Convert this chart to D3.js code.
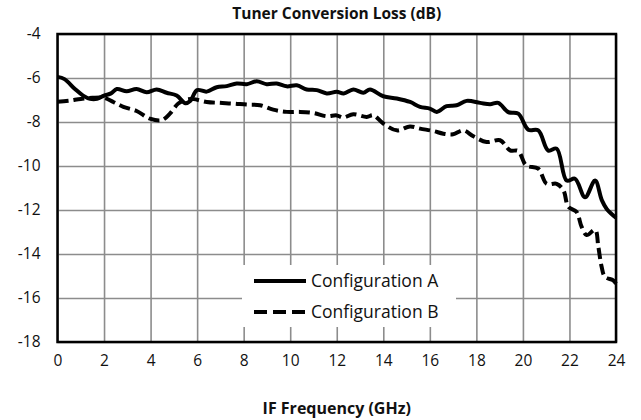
<!DOCTYPE html>
<html>
<head>
<meta charset="utf-8">
<script src="https://cdn.jsdelivr.net/npm/d3@7"></script>
<style>
  body { margin: 0; background: #fff; }
  text { font-family: "Open Sans", Lato, sans-serif; fill: #111; }
</style>
</head>
<body>
<script>
// data
var freqA = [0, 0.3, 0.75, 1.1, 1.4, 1.7, 2.0, 2.3, 2.55, 2.97, 3.4, 3.83, 4.26, 4.69, 5.12, 5.5, 5.7, 6.0,
  6.41, 6.84, 7.27, 7.7, 8.13, 8.56, 8.99, 9.42, 9.85, 10.28, 10.71, 11.14, 11.57, 12.0, 12.3, 12.71,
  13.14, 13.43, 14.0, 14.58, 15.15, 15.58, 16.0, 16.3, 16.72, 17.15, 17.58, 18.16, 18.59, 18.94, 19.37,
  19.8, 20.23, 20.66, 21.09, 21.45, 21.88, 22.24, 22.67, 23.1, 23.39, 23.6, 24];
var lossA = [-5.95, -6.05, -6.5, -6.8, -6.95, -6.95, -6.8, -6.7, -6.5, -6.6, -6.5, -6.65, -6.52, -6.67, -6.8, -7.15, -7.05, -6.55,
  -6.62, -6.42, -6.37, -6.25, -6.28, -6.15, -6.28, -6.25, -6.38, -6.33, -6.52, -6.55, -6.7, -6.63, -6.7, -6.52,
  -6.67, -6.52, -6.83, -6.93, -7.09, -7.31, -7.39, -7.54, -7.28, -7.24, -7.04, -7.13, -7.19, -7.13, -7.55,
  -7.62, -8.35, -8.38, -9.3, -9.21, -10.66, -10.58, -11.42, -10.66, -11.55, -11.95, -12.35];

var freqB = [0, 0.5, 1.0, 1.5, 2.0, 2.4, 2.83, 3.4, 3.97, 4.48, 4.83, 5.19, 5.55, 5.84, 6.41, 6.98, 7.55, 8.13,
  8.7, 9.27, 9.85, 10.42, 11.0, 11.57, 12.0, 12.28, 12.71, 13.29, 13.57, 14.0, 14.58, 15.15, 15.58, 16.15,
  16.58, 17.0, 17.44, 17.87, 18.44, 19.02, 19.45, 19.8, 20.14, 20.66, 21.02, 21.45, 21.74, 21.95, 22.3,
  22.52, 22.74, 23.1, 23.24, 23.38, 23.52, 23.88, 24];
var lossB = [-7.08, -7.03, -6.95, -6.9, -6.9, -7.09, -7.31, -7.5, -7.85, -7.92, -7.62, -7.16, -6.98, -6.96, -7.09, -7.13, -7.16, -7.21,
  -7.24, -7.44, -7.54, -7.54, -7.59, -7.74, -7.7, -7.8, -7.65, -7.77, -7.69, -8.07, -8.38, -8.2, -8.3, -8.41,
  -8.53, -8.56, -8.38, -8.65, -8.91, -8.83, -9.29, -9.32, -9.97, -10.12, -10.81, -10.81, -11.1, -11.85, -12.08,
  -12.76, -13.14, -12.9, -13.66, -14.57, -15.03, -15.2, -15.35];

var xTicks = [0, 2, 4, 6, 8, 10, 12, 14, 16, 18, 20, 22, 24];
var yTicks = [-4, -6, -8, -10, -12, -14, -16, -18];
var seriesNames = ["Configuration A", "Configuration B"];

var W = 641, H = 420;
var margin = {left: 57.5, top: 34, right: 25, bottom: 78};
var w = W - margin.left - margin.right,
    h = H - margin.top - margin.bottom;

var svg = d3.select('body').append('svg')
  .attr('width', W)
  .attr('height', H);

var g = svg.append('g')
  .attr('transform', 'translate(' + margin.left + ',' + margin.top + ')');

var x = d3.scaleLinear().domain([0, 24]).range([0, w]);
var y = d3.scaleLinear().domain([-18, -4]).range([h, 0]);

// grid
g.append('g')
  .attr('class', 'grid')
  .attr('transform', 'translate(0,' + h + ')')
  .call(d3.axisBottom(x).tickValues(xTicks).tickSize(-h).tickFormat(''));
g.append('g')
  .attr('class', 'grid')
  .call(d3.axisLeft(y).tickValues(yTicks).tickSize(-w).tickFormat(''));
g.selectAll('.grid .domain').remove();
g.selectAll('.grid line').attr('stroke', '#8c8c8c').attr('stroke-width', 1.6);

// tick labels (plain hyphen for minus, like the original)
var fmt = function(d) { return String(d); };
var xa = g.append('g')
  .attr('transform', 'translate(0,' + h + ')')
  .call(d3.axisBottom(x).tickValues(xTicks).tickSize(0).tickPadding(13).tickFormat(fmt));
var ya = g.append('g')
  .call(d3.axisLeft(y).tickValues(yTicks).tickSize(0).tickPadding(17).tickFormat(fmt));
xa.select('.domain').remove();
ya.select('.domain').remove();
svg.selectAll('.tick text')
  .attr('font-family', '"Open Sans", Lato, sans-serif')
  .attr('font-size', 15.5)
  .attr('fill', '#111');

// legend background
var leg = g.append('g');
leg.append('rect')
  .attr('x', 242 - margin.left).attr('y', 265 - margin.top)
  .attr('width', 214).attr('height', 62)
  .attr('fill', '#fff');

// lines
var line = d3.line()
  .x(function(d) { return x(d[0]); })
  .y(function(d) { return y(d[1]); })
  .curve(d3.curveCatmullRom.alpha(0.5));

var dataA = freqA.map(function(f, i) { return [f, lossA[i]]; });
var dataB = freqB.map(function(f, i) { return [f, lossB[i]]; });

g.append('path')
  .datum(dataB)
  .attr('d', line)
  .attr('fill', 'none')
  .attr('stroke', '#000')
  .attr('stroke-width', 4)
  .attr('stroke-dasharray', '11,5');

g.append('path')
  .datum(dataA)
  .attr('d', line)
  .attr('fill', 'none')
  .attr('stroke', '#000')
  .attr('stroke-width', 4)
  .attr('stroke-linejoin', 'round');

// plot border
g.append('rect')
  .attr('width', w).attr('height', h)
  .attr('fill', 'none')
  .attr('stroke', '#000')
  .attr('stroke-width', 2.5);

// legend items
seriesNames.forEach(function(name, i) {
  var ly = 281 - margin.top + i * 31;
  leg.append('line')
    .attr('x1', 254 - margin.left).attr('x2', 306 - margin.left)
    .attr('y1', ly).attr('y2', ly)
    .attr('stroke', '#000')
    .attr('stroke-width', 4)
    .attr('stroke-dasharray', i == 1 ? '13,6' : null);
  leg.append('text')
    .attr('x', 311 - margin.left).attr('y', ly + 6)
    .attr('font-size', 17.5)
    .text(name);
});

// titles
svg.append('text')
  .attr('x', margin.left + w / 2).attr('y', 19)
  .attr('text-anchor', 'middle')
  .attr('font-size', 15.5)
  .attr('font-weight', 'bold')
  .text('Tuner Conversion Loss (dB)');

svg.append('text')
  .attr('x', margin.left + w / 2).attr('y', 414)
  .attr('text-anchor', 'middle')
  .attr('font-size', 16)
  .attr('font-weight', 'bold')
  .text('IF Frequency (GHz)');
</script>
</body>
</html>
